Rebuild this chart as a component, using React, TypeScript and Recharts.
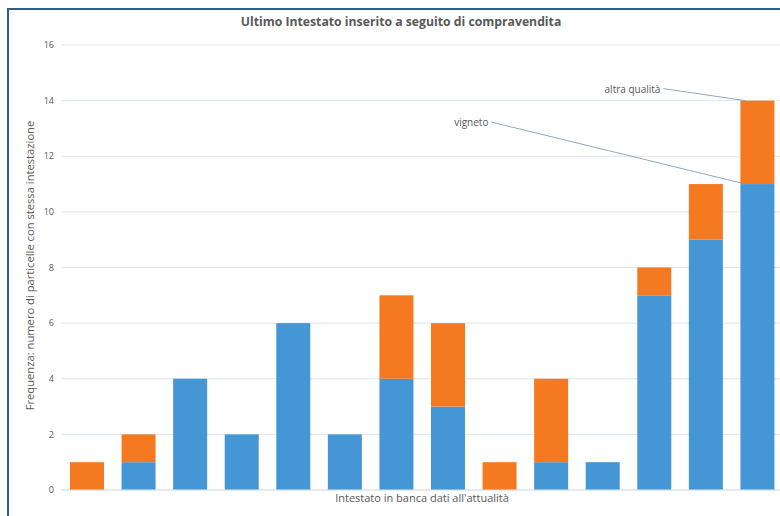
import React from 'react';
import { BarChart, Bar, XAxis, YAxis, CartesianGrid } from 'recharts';

const categories = ['1', '2', '3', '4', '5', '6', '7', '8', '9', '10', '11', '12', '13', '14'];
const vigneto = [0, 1, 4, 2, 6, 2, 4, 3, 0, 1, 1, 7, 9, 11];
const altraQualita = [1, 1, 0, 0, 0, 0, 3, 3, 1, 3, 0, 1, 2, 3];
const yTicks = [0, 2, 4, 6, 8, 10, 12, 14, 16];

const BLUE = '#4596d4';
const ORANGE = '#f47920';
const TEXT = '#595959';
const FONT = '"Open Sans", sans-serif';

const data = categories.map((c, i) => ({
  name: c,
  vigneto: vigneto[i],
  altra: altraQualita[i],
}));
const lastIndex = categories.length - 1;

// bar shape that also draws an Excel-style leader label on the last bar
const barWithLeader = (text: string, dx: number, dy: number) => (props: any) => {
  const { x, y, width, height, fill, index } = props;
  const rect = <rect x={x} y={y} width={width} height={Math.max(0, height)} fill={fill} />;
  if (index !== lastIndex) return rect;
  const tx = x + dx;
  const ty = y + dy;
  return (
    <g>
      {rect}
      <line x1={tx + 3} y1={ty - 4} x2={x + 5} y2={y} stroke="#8fa9bd" strokeWidth={1} />
      <text x={tx} y={ty} textAnchor="end" fontSize={10} fill={TEXT} fontFamily={FONT}>
        {text}
      </text>
    </g>
  );
};

const App: React.FC = () => {
  return (
    <div style={{ position: 'absolute', left: 0, top: 0, width: 780, height: 516, overflow: 'hidden', background: '#fff' }}>
      <div style={{
        position: 'absolute', left: 7, top: 8, width: 800, height: 540,
        borderLeft: '2px solid #2e5f8a', borderTop: '2px solid #2e5f8a',
      }} />
      <div style={{
        position: 'absolute', left: 0, top: 12, width: 802, textAlign: 'center',
        fontFamily: FONT, fontWeight: 700, fontSize: 13, color: TEXT,
        transform: 'scaleX(0.94)',
      }}>
        Ultimo Intestato inserito a seguito di compravendita
      </div>
      <div style={{ position: 'absolute', left: 0, top: 0 }}>
        <BarChart
          width={790}
          height={516}
          data={data}
          margin={{ top: 45, right: 7, bottom: 0, left: 11 }}
          barSize={34}
        >
          <CartesianGrid vertical={false} stroke="#dde4ec" />
          <XAxis
            dataKey="name"
            tick={false}
            tickLine={false}
            axisLine={{ stroke: '#dde4ec' }}
            height={26}
            label={{ value: "Intestato in banca dati all'attualità", position: 'insideTop', offset: 4, fontSize: 11, fill: TEXT, fontFamily: FONT }}
          />
          <YAxis
            domain={[0, 16]}
            ticks={yTicks}
            width={50}
            tickLine={false}
            axisLine={false}
            tick={{ fontSize: 9, fill: TEXT, fontFamily: FONT }}
            tickMargin={1}
            label={{
              value: 'Frequenza: numero di particelle con stessa intestazione',
              angle: -90,
              position: 'insideLeft',
              dx: 14,
              dy: -2,
              fontSize: 11.2,
              fill: TEXT,
              fontFamily: FONT,
              style: { textAnchor: 'middle' },
            }}
          />
          <Bar
            dataKey="vigneto"
            stackId="a"
            fill={BLUE}
            isAnimationActive={false}
            shape={barWithLeader('vigneto', -252, -58)}
          />
          <Bar
            dataKey="altra"
            stackId="a"
            fill={ORANGE}
            isAnimationActive={false}
            shape={barWithLeader('altra qualità', -80, -8)}
          />
        </BarChart>
      </div>
    </div>
  );
};

export default App;
